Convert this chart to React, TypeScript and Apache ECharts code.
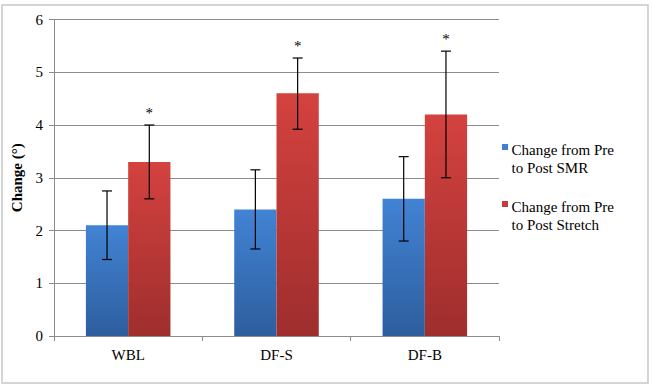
import React, { useEffect, useRef } from "react";
import * as echarts from "echarts";

const categories = ["WBL", "DF-S", "DF-B"];
const seriesNames = ["Change from Pre\nto Post SMR", "Change from Pre\nto Post Stretch"];
const seriesColors = ["#3F80D2", "#C6393A"];
const smrValues = [2.1, 2.4, 2.6];
const smrLow = [1.45, 1.65, 1.8];
const smrHigh = [2.75, 3.15, 3.4];
const stretchValues = [3.3, 4.6, 4.2];
const stretchLow = [2.6, 3.92, 3.0];
const stretchHigh = [4.0, 5.27, 5.4];
const significance = ["*", "*", "*"];
const yTicks = [0, 1, 2, 3, 4, 5, 6];

const FONT = "Liberation Serif, Times New Roman, serif";

function errorSeries(low: number[], high: number[], seriesIndex: number, stars?: string[]) {
  const data = categories.map((c, i) => [i, low[i], high[i], stars ? stars[i] : ""]);
  return {
    type: "custom",
    z: 10,
    renderItem: (params: any, api: any) => {
      const idx = api.value(0);
      const lo = api.coord([idx, api.value(1)]);
      const hi = api.coord([idx, api.value(2)]);
      const bandW = api.size([1, 0])[0];
      const barW = (bandW * 0.57) / 2;
      const x = lo[0] + (seriesIndex === 0 ? -barW / 2 : barW / 2);
      const cap = 5;
      const style = { stroke: "#000", lineWidth: 1.2 };
      const children: any[] = [
        { type: "line", shape: { x1: x, y1: lo[1], x2: x, y2: hi[1] }, style },
        { type: "line", shape: { x1: x - cap, y1: lo[1], x2: x + cap, y2: lo[1] }, style },
        { type: "line", shape: { x1: x - cap, y1: hi[1], x2: x + cap, y2: hi[1] }, style },
      ];
      const star = api.value(3);
      if (star) {
        children.push({
          type: "text",
          style: {
            text: String(star),
            x: x,
            y: hi[1] - 5,
            align: "center",
            verticalAlign: "bottom",
            font: `15px ${FONT}`,
            fill: "#000",
          },
        });
      }
      return { type: "group", children };
    },
    dimensions: ["x", "low", "high", "star"],
    encode: { x: 0, y: [1, 2] },
    data,
  };
}

export default function App() {
  const ref = useRef<HTMLDivElement>(null);
  useEffect(() => {
    const chart = echarts.init(ref.current!, null, { renderer: "svg" });
    const blueGrad = new echarts.graphic.LinearGradient(0, 0, 0, 1, [
      { offset: 0, color: "#4283D4" },
      { offset: 1, color: "#2D5E9E" },
    ]);
    const redGrad = new echarts.graphic.LinearGradient(0, 0, 0, 1, [
      { offset: 0, color: "#D4423F" },
      { offset: 1, color: "#9E2E2D" },
    ]);
    const legendGraphics: any[] = [];
    seriesNames.forEach((name, i) => {
      const top = 144 + i * 57;
      legendGraphics.push({
        type: "rect",
        shape: { x: 502, y: top, width: 6, height: 6 },
        style: { fill: seriesColors[i] },
      });
      legendGraphics.push({
        type: "text",
        x: 511.5,
        y: top - 3,
        style: {
          text: name,
          font: `15px ${FONT}`,
          fill: "#000",
          lineHeight: 18,
          verticalAlign: "top",
          align: "left",
        },
      });
    });
    chart.setOption({
      animation: false,
      backgroundColor: "#fff",
      graphic: [
        {
          type: "rect",
          shape: { x: 2, y: 5, width: 646, height: 378 },
          style: { fill: "none", stroke: "#c8c8c8", lineWidth: 1.5 },
          z: -1,
        },
        ...legendGraphics,
      ],
      grid: { left: 54, right: 153, top: 19.5, bottom: 51 },
      xAxis: {
        type: "category",
        data: categories,
        axisLine: { lineStyle: { color: "#8c8c8c" } },
        axisTick: { show: true, lineStyle: { color: "#8c8c8c" }, length: 5 },
        axisLabel: { fontFamily: FONT, fontSize: 15, color: "#000", margin: 11 },
      },
      yAxis: {
        type: "value",
        min: 0,
        max: 6,
        interval: 1,
        name: "Change (°)",
        nameLocation: "middle",
        nameGap: 26,
        nameTextStyle: { fontFamily: FONT, fontSize: 15, fontWeight: "bold", color: "#000" },
        axisLine: { show: true, lineStyle: { color: "#8c8c8c" } },
        axisTick: { show: true, lineStyle: { color: "#8c8c8c" }, length: 5 },
        axisLabel: {
          fontFamily: FONT,
          fontSize: 15,
          color: "#000",
          margin: 11,
          formatter: (v: number) => (yTicks.includes(v) ? String(v) : ""),
        },
        splitLine: { lineStyle: { color: "#8c8c8c", width: 1 } },
      },
      series: [
        {
          name: seriesNames[0],
          type: "bar",
          data: smrValues,
          barGap: "0%",
          barCategoryGap: "43%",
          itemStyle: { color: blueGrad },
        },
        {
          name: seriesNames[1],
          type: "bar",
          data: stretchValues,
          barGap: "0%",
          barCategoryGap: "43%",
          itemStyle: { color: redGrad },
        },
        errorSeries(smrLow, smrHigh, 0),
        errorSeries(stretchLow, stretchHigh, 1, significance),
      ],
    });
    return () => chart.dispose();
  }, []);
  return <div ref={ref} style={{ width: 652, height: 387, position: "absolute", left: 0, top: 0 }} />;
}
